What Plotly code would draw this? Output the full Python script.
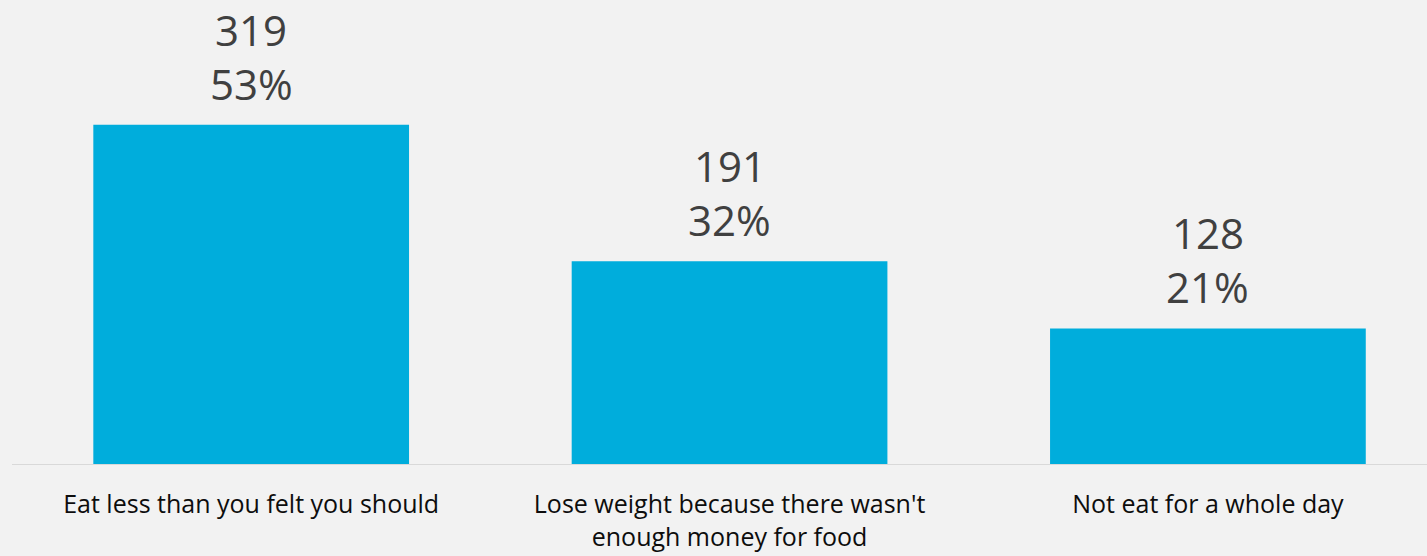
import plotly.graph_objects as go

categories = ["Eat less than you felt you should",
              "Lose weight because there wasn't<br>enough money for food",
              "Not eat for a whole day"]
counts = [319, 191, 128]
percents = ["53%", "32%", "21%"]

x_pos = list(range(len(categories)))

fig = go.Figure(go.Bar(
    x=x_pos, y=counts, width=0.66,
    marker=dict(color="#00ADDC", line=dict(width=0)),
    hoverinfo="skip",
))

for xi, c, p in zip(x_pos, counts, percents):
    fig.add_annotation(x=xi, y=c, text=p, showarrow=False, yanchor="bottom",
                       yshift=11, font=dict(family="Open Sans", size=42, color="#404040"))
    fig.add_annotation(x=xi, y=c, text=str(c), showarrow=False, yanchor="bottom",
                       yshift=65, font=dict(family="Open Sans", size=42, color="#404040"))

fig.update_layout(
    width=1427, height=556,
    margin=dict(l=12, r=0, t=0, b=91),
    paper_bgcolor="#F2F2F2", plot_bgcolor="#F2F2F2",
    showlegend=False,
    xaxis=dict(range=[-0.5, 2.458], tickmode="array", tickvals=x_pos, ticktext=categories,
               showgrid=False, zeroline=False, showline=False, ticks="",
               tickfont=dict(family="Open Sans", size=25, color="#0D0D0D"),
               ticklabelstandoff=22),
    yaxis=dict(range=[0, 436], visible=False),
    shapes=[dict(type="line", xref="paper", yref="y", x0=0, x1=1, y0=0, y1=0,
                 line=dict(color="#D9D9D9", width=2))],
)

fig.write_html("out.html", config={"displayModeBar": False},
               post_script="document.body.style.margin='0';document.body.style.background='#F2F2F2';")
